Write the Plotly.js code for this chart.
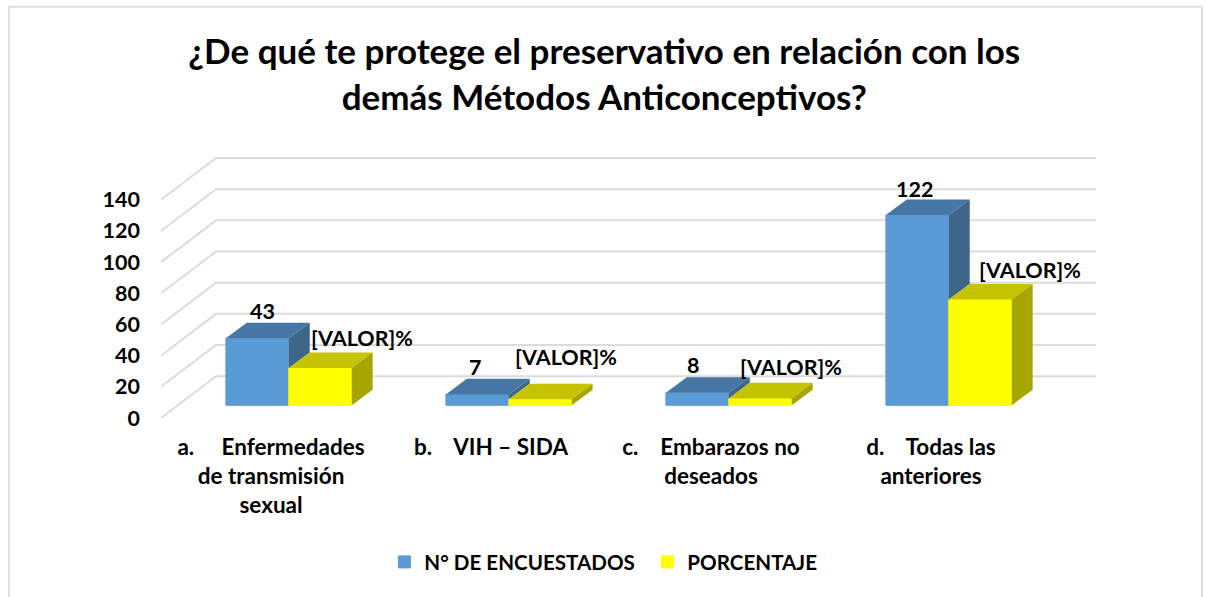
<!DOCTYPE html>
<html>
<head>
<meta charset="utf-8">
<script src="https://cdn.plot.ly/plotly-3.0.1.min.js"></script>
<style>
  html, body { margin: 0; padding: 0; background: #fff; }
  #chart { width: 1205px; height: 597px; }
</style>
</head>
<body>
<div id="chart"></div>
<script>
// values
const categories = [
    'a.&nbsp;&nbsp;&nbsp;&nbsp; Enfermedades<br>de transmisión<br>sexual',
    'b.&nbsp;&nbsp;&nbsp; VIH – SIDA',
    'c.&nbsp;&nbsp;&nbsp; Embarazos no<br>deseados',
    'd.&nbsp;&nbsp;&nbsp; Todas las<br>anteriores'
];
const encuestados = [43, 7, 8, 122];
const porcentaje = [23.9, 3.9, 4.4, 67.8];
const yTicks = [0, 20, 40, 60, 80, 100, 120, 140];

const FONT = 'Lato, sans-serif';
const BLUE = { front: '#5b9bd5', top: '#4676a4', side: '#3d6689' };
const YELLOW = { front: '#ffff00', top: '#c4c400', side: '#a6a600' };

// oblique projection, in axis units
const floorLift = 8.15;   // bars stand this far above the front edge of the floor
const barWidth = 0.286;
const barShift = 0.081;
const barDepthX = 0.095, barDepthY = 10;
const wallDepthX = 0.25, wallDepthY = 26.8;
const xMin = -0.5, xMax = 3.75;

const xPos = categories.map((c, i) => i + barShift);

// label nudges in pixels
const blueShiftX = [5, -2, -4, -3], blueShiftY = [27, 27, 28, 26];
const yellowShiftX = [42, 26, 31, 50], yellowShiftY = [30, 42, 31, 30];

function frontBar(name, values, color, offset) {
    return {
        type: 'bar', name: name, x: xPos, y: values,
        base: values.map(() => floorLift),
        width: barWidth, offset: offset,
        marker: { color: color, line: { width: 1, color: color } },
        hoverinfo: 'name+text', text: values.map(String), textposition: 'none'
    };
}

function face(xs, ys, color) {
    return {
        type: 'scatter', mode: 'lines', x: xs, y: ys, fill: 'toself', fillcolor: color,
        line: { width: 0, color: color }, showlegend: false, hoverinfo: 'skip'
    };
}

const traces = [
    frontBar('N° DE ENCUESTADOS', encuestados, BLUE.front, -barWidth),
    frontBar('PORCENTAJE', porcentaje, YELLOW.front, 0)
];

xPos.forEach((x, i) => {
    const blueTop = floorLift + encuestados[i];
    const yellowTop = floorLift + porcentaje[i];
    const l = x - barWidth, r = x + barWidth, d = barDepthX, h = barDepthY;
    // blue top and the part of its side the yellow bar leaves visible
    traces.push(face([l, x, x + d, l + d, l], [blueTop, blueTop, blueTop + h, blueTop + h, blueTop], BLUE.top));
    traces.push(face([x, x + d, x + d, x, x], [yellowTop, yellowTop + h, blueTop + h, blueTop, yellowTop], BLUE.side));
    // yellow top and side
    traces.push(face([x, r, r + d, x + d, x], [yellowTop, yellowTop, yellowTop + h, yellowTop + h, yellowTop], YELLOW.top));
    traces.push(face([r, r + d, r + d, r, r], [floorLift, floorLift + h, yellowTop + h, yellowTop, floorLift], YELLOW.side));
});

const labelFont = { family: FONT, size: 21.5, color: '#000', weight: 700 };
const annotations = [];
xPos.forEach((x, i) => {
    annotations.push({
        x: x - barWidth / 2, y: floorLift + encuestados[i], text: String(encuestados[i]),
        showarrow: false, xshift: blueShiftX[i], yshift: blueShiftY[i], font: labelFont
    });
    annotations.push({
        x: x + barWidth / 2, y: floorLift + porcentaje[i], text: '[VALOR]%',
        showarrow: false, xshift: yellowShiftX[i], yshift: yellowShiftY[i], font: labelFont
    });
});

// receding gridlines on the left side plus the back wall lines
const shapes = yTicks.map(t => ({
    type: 'path', layer: 'below', xref: 'x', yref: 'y',
    path: `M${xMin},${t} L${xMin + wallDepthX},${t + wallDepthY} L${xMax},${t + wallDepthY}`,
    line: { color: '#dcdcdc', width: 2 }
}));

const layout = {
    width: 1205, height: 597,
    margin: { l: 161, r: 109, t: 153, b: 179.3 },
    paper_bgcolor: '#fff', plot_bgcolor: 'rgba(0,0,0,0)',
    font: { family: FONT, color: '#000', size: 20, weight: 700 },
    title: {
        text: '¿De qué te protege el preservativo en relación con los<br>demás Métodos Anticonceptivos?',
        font: { family: FONT, size: 35, color: '#000', weight: 700 },
        x: 0.5015, xanchor: 'center', y: 0.892, yanchor: 'top'
    },
    barmode: 'overlay',
    xaxis: {
        range: [xMin, xMax], tickmode: 'array',
        tickvals: categories.map((c, i) => i), ticktext: categories,
        showgrid: false, zeroline: false, showline: false, ticks: '',
        tickangle: 0, ticklabelstandoff: 13,
        tickfont: { family: FONT, size: 22.5, color: '#000', weight: 700 }
    },
    yaxis: {
        range: [0, 170], tickmode: 'array', tickvals: yTicks,
        showgrid: false, zeroline: false, showline: false, ticks: '',
        ticklabelstandoff: 20,
        tickfont: { family: FONT, size: 21.5, color: '#000', weight: 700 }
    },
    legend: {
        orientation: 'h', x: 0.2389, xanchor: 'left', xref: 'paper', yref: 'container',
        y: 0.0586, yanchor: 'middle', entrywidth: 218, entrywidthmode: 'pixels',
        font: { family: FONT, size: 20.6, color: '#000', weight: 700 }
    },
    // chart frame, open at the bottom of the picture
    shapes: shapes.concat([{
        type: 'rect', xref: 'paper', yref: 'paper', layer: 'below',
        x0: -0.1626, x1: 1.1134, y0: -0.689, y1: 1.5516,
        line: { color: '#e0e0e0', width: 2 }, fillcolor: 'rgba(0,0,0,0)'
    }]),
    annotations: annotations,
    showlegend: true
};

Plotly.newPlot('chart', traces, layout, { displayModeBar: false, staticPlot: true });
</script>
</body>
</html>
